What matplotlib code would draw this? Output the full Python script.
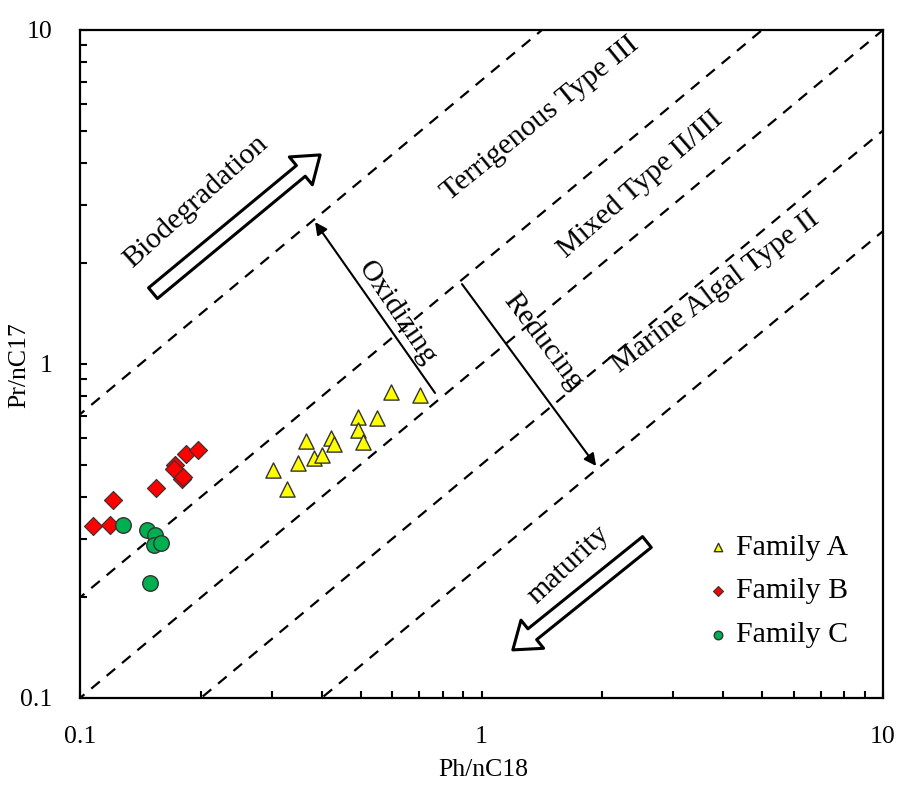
import matplotlib
matplotlib.use("Agg")
import matplotlib.pyplot as plt
from matplotlib.ticker import LogLocator, NullFormatter, FixedFormatter, FixedLocator

plt.rcParams['font.family'] = ['Liberation Serif', 'DejaVu Serif']

W, H = 901, 785

# Family A (triangles)
a_ph = [0.302, 0.327, 0.349, 0.366, 0.383, 0.401, 0.423, 0.429, 0.493, 0.492, 0.506, 0.548, 0.594, 0.703]
a_pr = [0.482, 0.422, 0.507, 0.588, 0.522, 0.534, 0.599, 0.576, 0.696, 0.635, 0.583, 0.688, 0.826, 0.808]

# Family B (diamonds)
b_ph = [0.108, 0.119, 0.121, 0.155, 0.172, 0.171, 0.180, 0.181, 0.184, 0.197]
b_pr = [0.328, 0.330, 0.392, 0.425, 0.498, 0.484, 0.452, 0.460, 0.538, 0.553]

# Family C (circles)
c_ph = [0.128, 0.147, 0.154, 0.153, 0.159, 0.149]
c_pr = [0.329, 0.318, 0.308, 0.287, 0.291, 0.221]

# Pr/Ph ratio of the dashed boundary lines
ratios = [7.07, 2.0, 1.0, 0.5, 0.25]

# annotation texts: text, centre in pixels, rotation
labels = [
    ("Terrigenous Type III", (540, 119), 39),
    ("Mixed Type II/III", (640, 185), 41),
    ("Marine Algal Type II", (716, 292), 37),
    ("Oxidizing", (397, 313), -56),
    ("Reducing", (543, 342), -53),
    ("Biodegradation", (196, 202), 42),
    ("maturity", (569, 565), 43),
]


def fpx(x, y):
    return x / W, 1 - y / H


fig = plt.figure(figsize=(W / 100, H / 100), dpi=100)
ax = fig.add_axes([80 / W, 1 - 698 / H, 803 / W, 668 / H])
ax.set_xscale('log')
ax.set_yscale('log')
ax.set_xlim(0.1, 10)
ax.set_ylim(0.1, 10)

for r in ratios:
    ax.plot([0.01, 100], [0.01 * r, 100 * r], color='black', lw=1.6,
            linestyle=(0, (5, 4)), zorder=1)

ax.scatter(a_ph, a_pr, marker='^', s=120, color='#ffff00', edgecolor='#333333',
           linewidths=1, zorder=3, label='Family A')
ax.scatter(b_ph, b_pr, marker='D', s=85, color='#ff0000', edgecolor='#333333',
           linewidths=0.8, zorder=3, label='Family B')
ax.scatter(c_ph, c_pr, marker='o', s=125, color='#00b050', edgecolor='#333333',
           linewidths=1, zorder=3, label='Family C')

for txt, (px, py), rot in labels:
    fx, fy = fpx(px, py)
    fig.text(fx, fy, txt, rotation=rot, fontsize=21.5, ha='center', va='center',
             rotation_mode='anchor')

# Oxidizing / Reducing arrows
ax.annotate('', xy=(0.385, 2.66), xytext=(0.766, 0.819),
            arrowprops=dict(arrowstyle='-|>', color='black', lw=1.5,
                            mutation_scale=18, shrinkA=0, shrinkB=0))
ax.annotate('', xy=(1.93, 0.495), xytext=(0.894, 1.735),
            arrowprops=dict(arrowstyle='-|>', color='black', lw=1.5,
                            mutation_scale=18, shrinkA=0, shrinkB=0))

# open arrows (biodegradation, maturity)
big = 'simple,head_width=2.6,head_length=1.8,tail_width=1.0'
ax.annotate('', xy=(0.299, 0.813), xytext=(0.0909, 0.606), xycoords='axes fraction',
            arrowprops=dict(arrowstyle=big, fc='white', ec='black', lw=2.2,
                            mutation_scale=10, shrinkA=0, shrinkB=0))
ax.annotate('', xy=(0.539, 0.072), xytext=(0.706, 0.2335), xycoords='axes fraction',
            arrowprops=dict(arrowstyle=big, fc='white', ec='black', lw=2.2,
                            mutation_scale=10, shrinkA=0, shrinkB=0))

ax.legend(loc='lower right', bbox_to_anchor=(0.99, 0.034), frameon=False,
          fontsize=21.5, markerscale=0.55, handletextpad=0.1, labelspacing=0.57,
          handlelength=1.0, borderpad=0.4)

ax.xaxis.set_major_locator(FixedLocator([0.1, 1, 10]))
ax.yaxis.set_major_locator(FixedLocator([0.1, 1, 10]))
ax.xaxis.set_major_formatter(FixedFormatter(['0.1', '1', '10']))
ax.yaxis.set_major_formatter(FixedFormatter(['0.1', '1', '10']))
ax.xaxis.set_minor_locator(LogLocator(base=10, subs=range(2, 10)))
ax.yaxis.set_minor_locator(LogLocator(base=10, subs=range(2, 10)))
ax.xaxis.set_minor_formatter(NullFormatter())
ax.yaxis.set_minor_formatter(NullFormatter())
ax.tick_params(which='both', direction='in', length=5, width=1.5, labelsize=18.5)
ax.tick_params(axis='x', pad=20)
ax.tick_params(axis='y', pad=20)
for s in ax.spines.values():
    s.set_linewidth(1.6)

fx, fy = fpx(483, 770)
fig.text(fx, fy, 'Ph/nC18', fontsize=18.5, ha='center', va='center')
fx, fy = fpx(19, 365)
fig.text(fx, fy, 'Pr/nC17', fontsize=18.5, ha='center', va='center', rotation=90)

fig.savefig('out.png', dpi=100)
